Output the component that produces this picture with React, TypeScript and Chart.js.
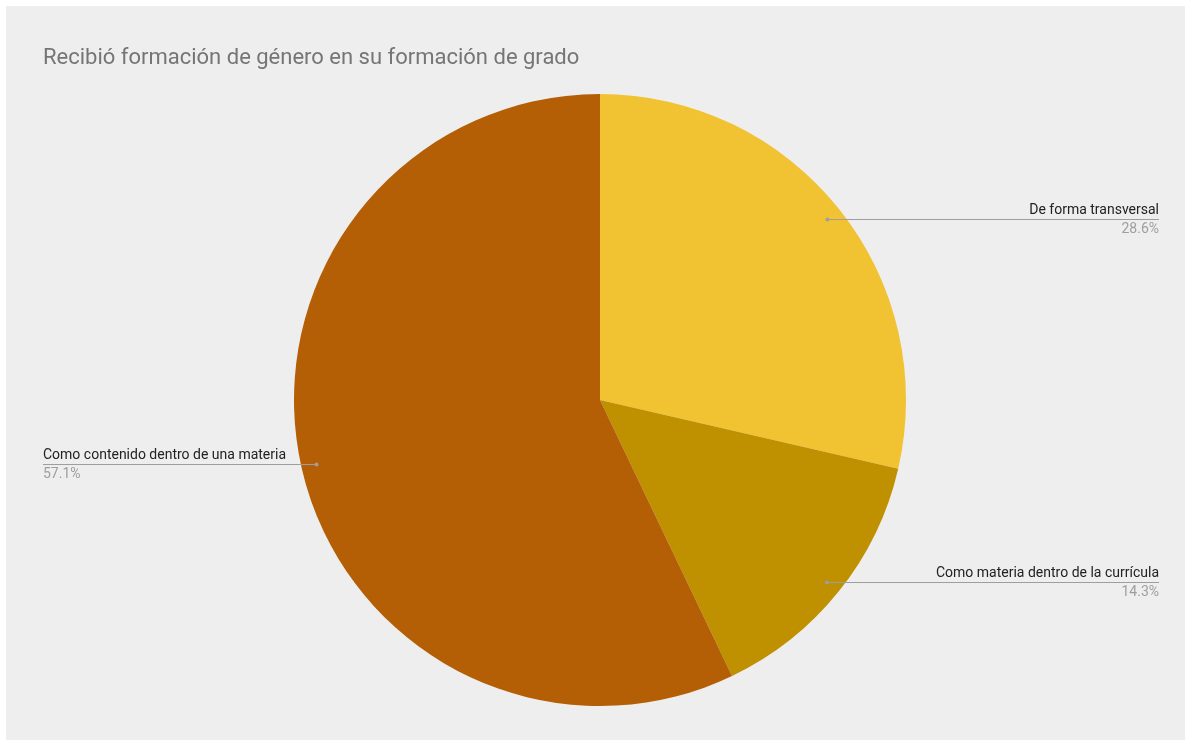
import React, { useEffect, useRef } from "react";
import { Chart, registerables } from "chart.js";

Chart.register(...registerables);

const chartTitle = "Recibió formación de género en su formación de grado";
const categories = [
  "De forma transversal",
  "Como materia dentro de la currícula",
  "Como contenido dentro de una materia",
];
const values = [28.6, 14.3, 57.1];
const colors = ["#f1c232", "#bf9000", "#b45f06"];

const W = 1191;
const H = 740;

const bgPlugin = {
  id: "bgPlugin",
  beforeDraw(chart: any) {
    const ctx = chart.ctx;
    ctx.save();
    ctx.fillStyle = "#ffffff";
    ctx.fillRect(0, 0, W, H);
    ctx.fillStyle = "#eeeeee";
    ctx.fillRect(6, 6, 1179, 734);
    ctx.fillStyle = "#757575";
    ctx.font = "22px Roboto";
    ctx.textAlign = "left";
    ctx.textBaseline = "alphabetic";
    ctx.fillText(chartTitle, 43, 64);
    ctx.restore();
  },
};

const labelPlugin = {
  id: "labelPlugin",
  afterDatasetsDraw(chart: any) {
    const ctx = chart.ctx;
    const meta = chart.getDatasetMeta(0);
    const data = chart.data.datasets[0].data as number[];
    const total = data.reduce((a, b) => a + b, 0);
    ctx.save();
    meta.data.forEach((arc: any, i: number) => {
      const p = arc.getProps(["x", "y", "startAngle", "endAngle", "outerRadius"], true);
      const mid = (p.startAngle + p.endAngle) / 2;
      const r = p.outerRadius * 0.95;
      const px = p.x + Math.cos(mid) * r;
      const py = p.y + Math.sin(mid) * r;
      const right = Math.cos(mid) >= 0;
      const edge = right ? 1159 : 43;
      ctx.strokeStyle = "#9e9e9e";
      ctx.lineWidth = 1;
      ctx.beginPath();
      ctx.moveTo(px, Math.round(py) + 0.5);
      ctx.lineTo(edge, Math.round(py) + 0.5);
      ctx.stroke();
      ctx.fillStyle = "#9e9e9e";
      ctx.beginPath();
      ctx.arc(px, Math.round(py) + 0.5, 2, 0, Math.PI * 2);
      ctx.fill();
      ctx.textAlign = right ? "right" : "left";
      ctx.textBaseline = "alphabetic";
      ctx.font = "14px Roboto";
      ctx.fillStyle = "#222222";
      ctx.fillText(categories[i], edge, Math.round(py) - 5);
      ctx.fillStyle = "#9e9e9e";
      const pct = ((data[i] / total) * 100).toFixed(1) + "%";
      ctx.fillText(pct, edge, Math.round(py) + 14);
    });
    ctx.restore();
  },
};

export default function App() {
  const ref = useRef<HTMLCanvasElement | null>(null);
  useEffect(() => {
    if (!ref.current) return;
    const chart = new Chart(ref.current, {
      type: "pie",
      data: {
        labels: categories,
        datasets: [
          {
            data: values,
            backgroundColor: colors,
            borderWidth: 0,
          },
        ],
      },
      options: {
        responsive: false,
        animation: false,
        devicePixelRatio: 1,
        events: [],
        layout: { padding: { left: 294, right: 285, top: 94, bottom: 34 } },
        plugins: {
          legend: { display: false },
          tooltip: { enabled: false },
          title: { display: false },
        },
      },
      plugins: [bgPlugin, labelPlugin],
    });
    return () => chart.destroy();
  }, []);
  return (
    <div style={{ position: "fixed", left: 0, top: 0, width: W, height: H }}>
      <canvas ref={ref} width={W} height={H} style={{ display: "block" }} />
    </div>
  );
}
